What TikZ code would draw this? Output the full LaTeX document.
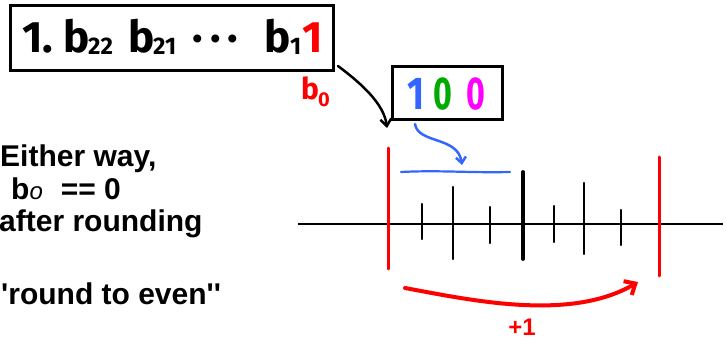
\documentclass[tikz,border=0pt]{standalone}
\usepackage{fontspec}
\usepackage{graphicx}
\setmainfont{Liberation Sans}[Ligatures=TeXOff]
\newfontfamily\hand{Fira Sans}
\usetikzlibrary{arrows.meta}
\definecolor{penred}{RGB}{255,0,0}
\definecolor{penblue}{RGB}{51,102,255}
\definecolor{pengreen}{RGB}{0,170,0}
\definecolor{penmag}{RGB}{255,0,255}
\tikzset{
  hw/.style={font=\hand\bfseries\fontsize{44}{44}\selectfont, inner sep=0pt, anchor=base west},
  hwsub/.style={font=\hand\bfseries\fontsize{24}{24}\selectfont, inner sep=0pt, anchor=base west},
  frame/.style={draw, line width=3pt, inner sep=0pt},
  remark/.style={font=\bfseries\fontsize{30}{30}\selectfont, inner sep=0pt, anchor=base west},
  pen/.style={line width=2.5pt, line cap=round},
  redtick/.style={penred, line width=3pt, line cap=round},
  tick/.style={line width=2.5pt, line cap=round},
}
\begin{document}
\begin{tikzpicture}[x=1pt, y=-1pt]
\useasboundingbox (0,0) rectangle (726,339);

% binary fraction box
\node[frame, minimum width=323pt, minimum height=65pt, anchor=north west] (bits) at (9,4) {};
\node[hw] (lead) at (22,53) {1};
\node[hw] (point) at (42,53) {.};
\node[hw] (b22) at (63,53) {b};
\node[hwsub] (s22) at (88,55) {22};
\node[hw] (b21) at (128,53) {b};
\node[hwsub] (s21) at (153,55) {21};
\node[hw] (dots) at (192,53) {·\,·\,·};
\node[hw] (b1) at (264,53) {b};
\node[hwsub] (s1) at (290,55) {1};
\node[hw, penred] (last) at (302,53) {1};
\node[hw, penred, font=\hand\bfseries\fontsize{30}{30}\selectfont] (bz) at (301,100) {b};
\node[hwsub, penred, font=\hand\bfseries\fontsize{20}{20}\selectfont] (bzs) at (318,107) {0};

% guard bits box
\node[frame, minimum width=110pt, minimum height=53pt, anchor=north west] (guard) at (391,65) {};
\node[hw, penblue, font=\hand\bfseries\fontsize{46}{46}\selectfont] (g1) at (407,110) {\scalebox{0.8}[1]{1}};
\node[hw, pengreen, font=\hand\bfseries\fontsize{46}{46}\selectfont] (g2) at (433,110) {\scalebox{0.7}[1]{0}};
\node[hw, penmag, font=\hand\bfseries\fontsize{46}{46}\selectfont] (g3) at (466,110) {\scalebox{0.7}[1]{0}};

% connectors
\coordinate (lowEdge) at (387,128);
\draw[pen, -{Straight Barb[length=7pt, width=11pt]}]
  ([xshift=3pt, yshift=6pt]bits.south east) .. controls (362,84) and (384,104) .. (lowEdge);
\coordinate (gStart) at (415,124);
\coordinate (gEnd) at (462,165);
\draw[pen, penblue, -{Straight Barb[length=6pt, width=10pt]}]
  (gStart) .. controls (418,144) and (458,136) .. (gEnd);

% number line
\coordinate (axL) at (298,224);
\coordinate (axR) at (723,224);
\draw[line width=2.5pt] (axL) -- (axR);
\draw[penblue, line width=2.2pt, line cap=round] (401,172) .. controls (440,170) and (470,173) .. (510,172);
\draw[redtick] (388,148) -- (388,269);
\draw[redtick] (659,157) -- (659,276);
\draw[tick] (422,204) -- (422,239);
\draw[tick] (453,187) -- (453,259);
\draw[tick] (490,207) -- (490,243);
\draw[line width=3.8pt, line cap=round] (523,172) -- (523,259);
\draw[tick] (554,206) -- (554,242);
\draw[tick] (584,183) -- (584,254);
\draw[tick] (621,210) -- (621,245);

% carry arrow
\coordinate (cStart) at (405,288);
\coordinate (cEnd) at (638,282);
\draw[penred, line width=4pt, line cap=round, -{Straight Barb[length=9pt, width=16pt, line width=4pt]}]
  (cStart) .. controls (470,300) and (570,322) .. (cEnd);
\node[penred, font=\bfseries\fontsize{24}{24}\selectfont, inner sep=0pt, anchor=base] (plus) at (522,335) {+1};

% remarks
\node[remark] (r1) at (0,167) {Either way,};
\node[remark] (r2) at (11,200) {b{\mdseries\itshape\fontsize{24}{24}\selectfont o}\hspace{18pt}== 0};
\node[remark] (r3) at (-1,232) {after rounding};
\node[remark] (r4) at (1,305) {'round to even''};
\end{tikzpicture}
\end{document}
